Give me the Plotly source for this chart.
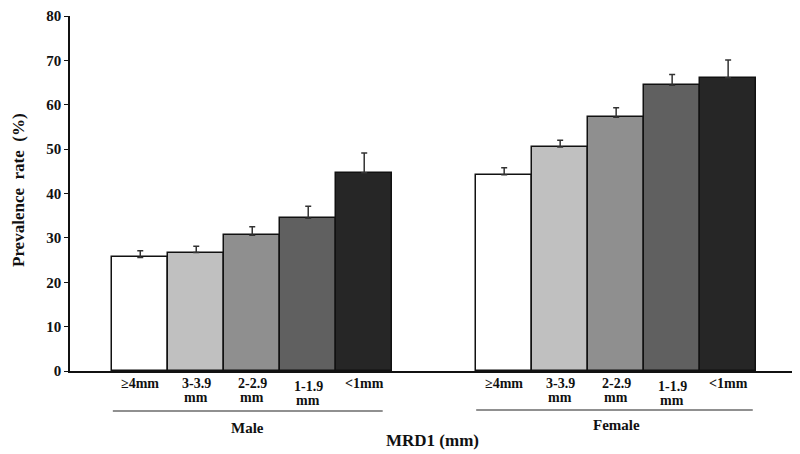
import plotly.graph_objects as go

categories = ["≥4mm", "3-3.9<br>mm", "2-2.9<br>mm", "1-1.9<br>mm", "<1mm"]
groups = ["Male", "Female"]
male_values = [25.6, 26.7, 30.6, 34.4, 44.7]
male_errors = [1.5, 1.4, 1.9, 2.7, 4.4]
female_values = [44.2, 50.5, 57.2, 64.4, 66.1]
female_errors = [1.6, 1.5, 2.1, 2.4, 4.0]
y_ticks = [0, 10, 20, 30, 40, 50, 60, 70, 80]

colors = ["#ffffff", "#c0c0c0", "#8f8f8f", "#606060", "#262626"]
FONT = "Liberation Serif"
TXT = "#111111"

male_x = [0, 1, 2, 3, 4]
female_x = [6.5, 7.5, 8.5, 9.5, 10.5]

fig = go.Figure()
for xs, vals, errs in [(male_x, male_values, male_errors), (female_x, female_values, female_errors)]:
    fig.add_trace(go.Bar(
        x=xs, y=vals, width=1.0,
        marker=dict(color=colors, line=dict(color="#111111", width=1.5)),
        error_y=dict(type="data", array=errs, arrayminus=[0] * len(errs), symmetric=False,
                     color="#333333", thickness=1.5, width=3),
        showlegend=False, hoverinfo="y",
    ))

# page has an 8px body margin; plot area spans page x 70..797, page y 16..371
H_PLOT = 355.0
W_PLOT = 727.0
def py(p):
    return (371 - p) / H_PLOT
def px(p):
    return (p - 70) / W_PLOT

annotations = []
for xs in (male_x, female_x):
    for x, lab in zip(xs, categories):
        lines = lab.split("<br>")
        shift = 3 if lines[0].startswith("1-1.9") else 0
        for i, line in enumerate(lines):
            annotations.append(dict(x=x, y=py(383 + shift + 15 * i), xref="x", yref="paper",
                                    text="<b>" + line + "</b>", showarrow=False, yanchor="middle",
                                    font=dict(family=FONT, size=14, color=TXT)))

annotations.append(dict(x=1.92, y=py(428), xref="x", yref="paper", text="<b>Male</b>", showarrow=False,
                        yanchor="middle", font=dict(family=FONT, size=15, color=TXT)))
annotations.append(dict(x=8.5, y=py(425), xref="x", yref="paper", text="<b>Female</b>", showarrow=False,
                        yanchor="middle", font=dict(family=FONT, size=15, color=TXT)))
annotations.append(dict(x=px(432.5), y=py(440), xref="paper", yref="paper", text="<b>MRD1 (mm)</b>",
                        showarrow=False, yanchor="middle", xanchor="center",
                        font=dict(family=FONT, size=17, color=TXT)))
annotations.append(dict(x=px(18), y=py(190), xref="paper", yref="paper",
                        text="<b>Prevalence  rate  (%)</b>", textangle=-90, showarrow=False,
                        xanchor="center", yanchor="middle",
                        font=dict(family=FONT, size=17, color=TXT)))

shapes = [
    dict(type="line", xref="x", yref="paper", x0=-0.49, x1=4.33, y0=py(411), y1=py(411),
         line=dict(color="#222222", width=1.2)),
    dict(type="line", xref="x", yref="paper", x0=6.0, x1=10.94, y0=py(410), y1=py(410),
         line=dict(color="#222222", width=1.2)),
]

fig.update_layout(
    width=800, height=454,
    margin=dict(l=62, r=11, t=8, b=91, autoexpand=False),
    plot_bgcolor="white", paper_bgcolor="white",
    bargap=0,
    annotations=annotations,
    shapes=shapes,
    xaxis=dict(range=[-1.255, 11.73], showticklabels=False, ticks="", showgrid=False, zeroline=False,
               showline=True, linecolor="#111111", linewidth=1.5, automargin=False),
    yaxis=dict(range=[0, 80], tickvals=y_ticks, ticktext=["<b>%d</b>" % v for v in y_ticks],
               ticks="outside", ticklen=4, tickcolor="#111111", showgrid=False, zeroline=False,
               showline=True, linecolor="#111111", linewidth=1.5, automargin=False,
               ticklabeloverflow="allow",
               tickfont=dict(family=FONT, size=15, color=TXT)),
)

fig.write_html("out.html")
